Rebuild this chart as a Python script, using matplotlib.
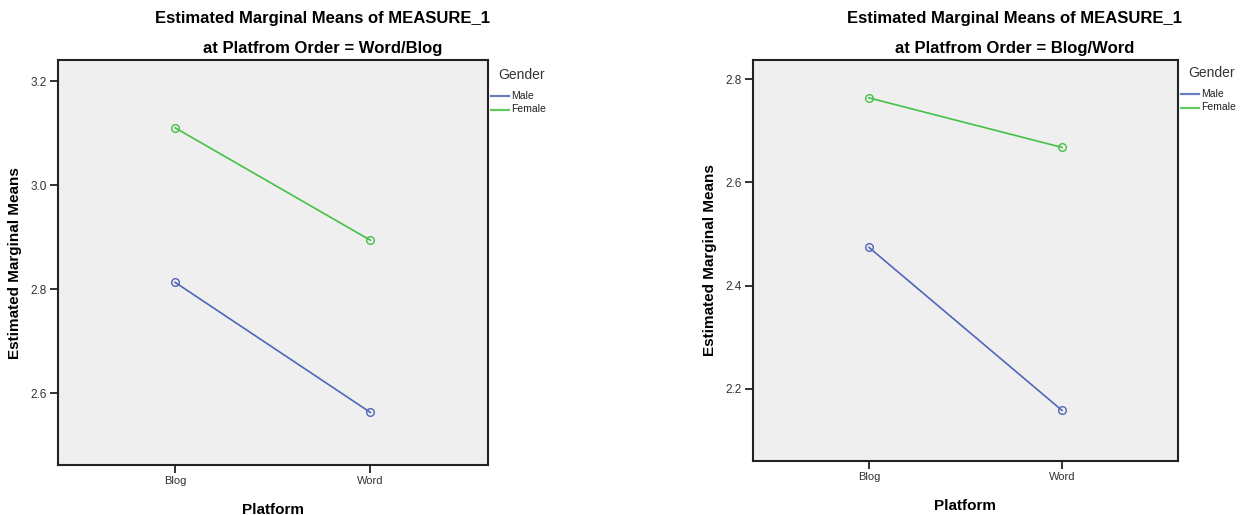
import matplotlib.pyplot as plt
from matplotlib.lines import Line2D

plt.rcParams['font.family'] = ['Liberation Sans', 'DejaVu Sans']

platforms = ["Blog", "Word"]
genders = ["Male", "Female"]

# panel 1: Platfrom Order = Word/Blog
p1_male = [2.813, 2.563]
p1_female = [3.110, 2.894]
p1_ticks = [2.6, 2.8, 3.0, 3.2]

# panel 2: Platfrom Order = Blog/Word
p2_male = [2.474, 2.158]
p2_female = [2.764, 2.668]
p2_ticks = [2.2, 2.4, 2.6, 2.8]

blue = "#5166b8"
green = "#45c145"

fig = plt.figure(figsize=(12.45, 5.15), dpi=100)
fig.patch.set_facecolor("white")

W, H = 1245.0, 515.0


def panel(rect, male, female, ticks, ylim, order, title_x, leg_x, leg_y):
    ax = fig.add_axes(rect)
    ax.set_facecolor("#efefef")
    x = list(range(len(platforms)))
    ax.plot(x, male, color=blue, lw=1.2, marker="o", ms=5.5, mfc="none", mew=1.0)
    ax.plot(x, female, color=green, lw=1.2, marker="o", ms=5.5, mfc="none", mew=1.0)
    ax.set_xlim(-0.6, 1.6)
    ax.set_ylim(*ylim)
    ax.set_xticks(x)
    ax.set_xticklabels(platforms, fontsize=8, color="#333333")
    ax.set_yticks(ticks)
    ax.set_yticklabels([f"{t:.1f}" for t in ticks], fontsize=8.5, color="#333333")
    ax.tick_params(length=6, width=1.3, color="#222222", pad=2)
    for s in ax.spines.values():
        s.set_linewidth(1.5)
        s.set_color("#222222")
    ax.set_xlabel("Platform", fontsize=11, fontweight="bold", labelpad=12)
    ax.set_ylabel("Estimated Marginal Means", fontsize=11, fontweight="bold", labelpad=6)
    fig.text(title_x, 1 - 18 / H, "Estimated Marginal Means of MEASURE_1",
             fontsize=12, fontweight="bold", ha="center", va="center")
    fig.text(title_x, 1 - 49 / H, f"at Platfrom Order = {order}",
             fontsize=12, fontweight="bold", ha="center", va="center")
    # legend, SPSS style: title then short line swatches
    fig.text(leg_x / W, 1 - leg_y / H, "Gender", fontsize=10, color="#333333",
             ha="left", va="center")
    for i, (name, col) in enumerate(zip(genders, [blue, green])):
        yy = 1 - (leg_y + 21 + 13.5 * i) / H
        fig.add_artist(Line2D([(leg_x - 7) / W, (leg_x + 11) / W], [yy, yy],
                              color=col, lw=1.6, alpha=0.85))
        fig.text((leg_x + 13) / W, yy, name, fontsize=7.5, color="#222222",
                 ha="left", va="center")
    return ax


panel([0.0466, 0.0971, 0.345, 0.786], p1_male, p1_female, p1_ticks,
      (2.462, 3.240), "Word/Blog", 0.259, 498, 75)
panel([0.605, 0.105, 0.341, 0.779], p2_male, p2_female, p2_ticks,
      (2.060, 2.838), "Blog/Word", 0.815, 1188, 73)

fig.savefig("out.png", dpi=100)
